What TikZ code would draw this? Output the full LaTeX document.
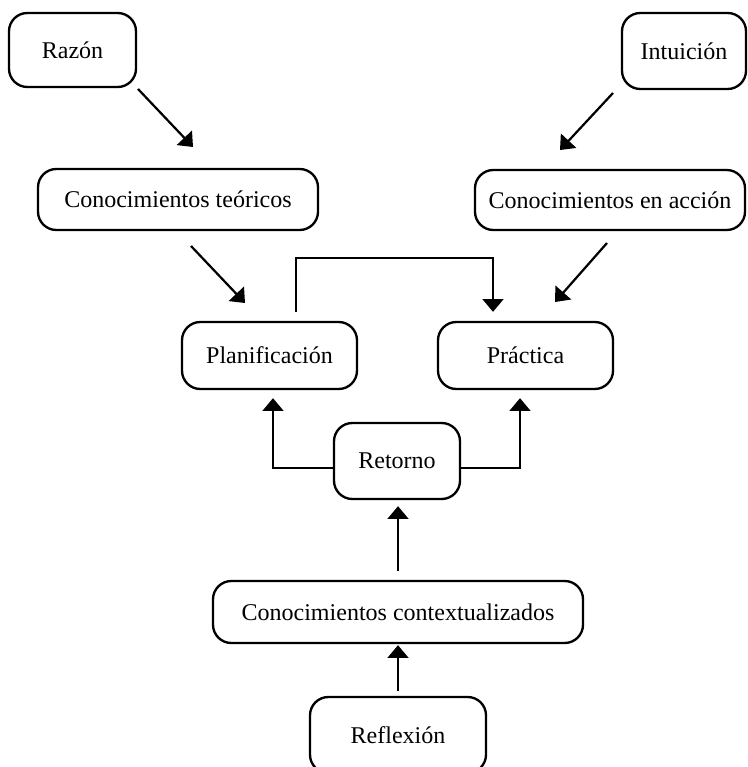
\documentclass[tikz,border=0pt]{standalone}
\usepackage{fontspec}
\setmainfont{Liberation Serif}
\usetikzlibrary{arrows.meta}

\tikzset{
  box/.style={draw, line width=2pt, rounded corners=0.55cm, align=center,
    inner sep=0pt, font=\fontsize{20.5}{24}\selectfont},
  link/.style={line width=1.9pt, -{Triangle[length=0.38cm,width=0.62cm]}}
}

\begin{document}
\begin{tikzpicture}[x=0.03cm, y=-0.03cm]
\useasboundingbox (0,0) rectangle (747,767);

% sources
\node[box, minimum width=3.81cm, minimum height=2.22cm] (razon) at (72.5,50) {Razón};
\node[box, minimum width=3.72cm, minimum height=2.28cm] (intuicion) at (684,51) {Intuición};

\node[box, minimum width=8.4cm, minimum height=1.83cm] (teoricos) at (178,199.5) {Conocimientos teóricos};
\node[box, minimum width=8.1cm, minimum height=1.8cm] (accion) at (610,200) {Conocimientos en acción};

\node[box, minimum width=5.25cm, minimum height=2.01cm] (planif) at (269.5,355.5) {Planificación};
\node[box, minimum width=5.25cm, minimum height=2.01cm] (practica) at (525.5,355.5) {Práctica};

\node[box, minimum width=3.78cm, minimum height=2.28cm] (retorno) at (397,461) {Retorno};
\node[box, minimum width=11.1cm, minimum height=1.86cm] (context) at (398,612) {Conocimientos contextualizados};
\node[box, minimum width=5.28cm, minimum height=2.28cm] (reflexion) at (398,735) {Reflexión};

% free ends of the slanted arrows
\coordinate (r1) at (138,89);
\coordinate (r2) at (193,147);
\coordinate (i1) at (613,93);
\coordinate (i2) at (560,150);
\coordinate (t1) at (191,246);
\coordinate (t2) at (245,303);
\coordinate (a1) at (607,243);
\coordinate (a2) at (555,302);

\draw[link] (r1) -- (r2);
\draw[link] (i1) -- (i2);
\draw[link] (t1) -- (t2);
\draw[link] (a1) -- (a2);

\draw[link] ([xshift=0.795cm,yshift=0.27cm]planif.north) -- ++(0,-54)
  -| ([xshift=-0.975cm,yshift=0.27cm]practica.north);

\draw[link] ([yshift=-0.21cm]retorno.west) -| ([xshift=0.105cm,yshift=-0.24cm]planif.south);
\draw[link] ([yshift=-0.21cm]retorno.east) -| ([xshift=-0.165cm,yshift=-0.24cm]practica.south);

\draw[link] ([yshift=0.27cm]context.north) -- ([yshift=-0.18cm]context.north |- retorno.south);
\draw[link] ([yshift=0.15cm]reflexion.north) -- ([yshift=-0.03cm]context.south);

\end{tikzpicture}
\end{document}
